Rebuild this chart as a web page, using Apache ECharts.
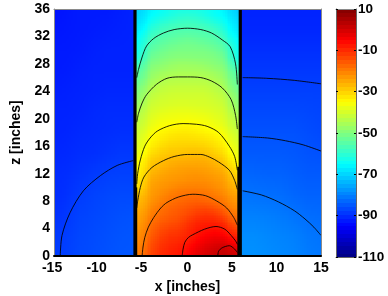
<!DOCTYPE html>
<html><head><meta charset="utf-8">
<style>html,body{margin:0;padding:0;background:#fff}#c{width:388px;height:296px}</style>
<script src="https://cdn.jsdelivr.net/npm/echarts@6/dist/echarts.min.js"></script></head>
<body><div id="c"></div>
<script>
// z rows for the centre region (one per inch)
const centreZ=[.5,1.5,2.5,3.5,4.5,5.5,6.5,7.5,8.5,9.5,10.5,11.5,12.5,13.5,14.5,15.5,16.5,17.5,18.5,19.5,20.5,21.5,22.5,23.5,24.5,25.5,26.5,27.5,28.5,29.5,30.5,31.5,32.5,33.5,34.5,35.5];
const centreX=[-5.5,-4.5,-3.5,-2.5,-1.5,-0.5,0.5,1.5,2.5,3.5,4.5,5.5];
const colA=[-21,-22,-23,-23,-25,-25,-26,-27,-28,-32,-34,-35,-36,-37,-38,-40,-40,-41,-42,-43,-45,-46,-49,-50,-52,-54,-56,-58,-62,-64,-65,-66,-68,-69,-70,-71];
const colB=[-15,-16,-17,-18,-19,-20,-22,-23,-24,-24,-25,-26,-28,-29,-31,-33,-35,-36,-38,-39,-40,-41,-42,-44,-45,-48,-49,-50,-52,-54,-56,-57,-60,-64,-65,-67];
const colC=[-11,-12,-13,-15,-16,-18,-19,-20,-22,-23,-23,-25,-26,-28,-29,-31,-33,-34,-35,-37,-38,-40,-40,-42,-43,-45,-46,-49,-50,-52,-54,-56,-57,-60,-63,-65];
const colD=[-9,-10,-11,-12,-14,-16,-17,-18,-20,-21,-23,-23,-25,-26,-28,-29,-31,-33,-34,-36,-37,-39,-40,-41,-42,-44,-45,-48,-49,-51,-52,-54,-56,-58,-61,-64];
const colE=[-8,-9,-10,-11,-14,-15,-16,-17,-18,-20,-22,-23,-24,-25,-27,-29,-30,-32,-33,-36,-37,-38,-40,-40,-42,-43,-45,-46,-48,-50,-51,-54,-55,-57,-60,-62];
const colF=[-7,-8,-10,-11,-12,-14,-15,-16,-18,-19,-21,-23,-23,-25,-27,-29,-30,-32,-33,-35,-37,-38,-40,-40,-42,-43,-45,-46,-48,-50,-51,-52,-55,-57,-58,-62];
const colG=[-3,-5,-7,-8,-9,-11,-14,-15,-17,-19,-21,-22,-23,-25,-26,-28,-30,-32,-33,-35,-37,-38,-40,-40,-42,-43,-45,-46,-48,-50,-51,-52,-55,-57,-58,-62];
const colH=[-1,-3,-5,-7,-8,-10,-12,-15,-17,-19,-21,-22,-23,-25,-26,-29,-30,-33,-34,-36,-37,-39,-40,-40,-42,-43,-45,-46,-49,-50,-51,-54,-55,-57,-60,-62];
const colI=[1,-1,-3,-5,-8,-10,-12,-16,-18,-20,-21,-23,-24,-25,-27,-29,-31,-33,-35,-36,-38,-39,-40,-41,-42,-44,-45,-48,-49,-50,-52,-54,-56,-58,-62,-64];
const colJ=[2,0,-3,-5,-8,-10,-14,-17,-19,-21,-23,-23,-25,-27,-29,-31,-33,-34,-36,-38,-39,-40,-41,-42,-44,-45,-46,-49,-50,-51,-54,-55,-57,-60,-64,-65];
const colK=[3,1,-3,-7,-10,-14,-18,-19,-21,-23,-23,-25,-26,-29,-31,-33,-35,-36,-38,-39,-40,-41,-42,-44,-45,-48,-49,-50,-52,-54,-56,-58,-62,-64,-65,-67];
const colL=[0,-5,-9,-12,-17,-19,-21,-23,-24,-26,-29,-31,-33,-36,-38,-39,-40,-42,-43,-45,-46,-49,-50,-51,-54,-55,-56,-60,-64,-65,-65,-67,-68,-70,-70,-72];
const centreCols=[colA,colB,colC,colD,colE,colF,colG,colH,colI,colJ,colK,colL];

// side regions (coarser): rows every 3 inches
const sideZ=[1.5,4.5,7.5,10.5,13.5,16.5,19.5,22.5,25.5,28.5,31.5,34.5];
const leftX=[-14.25,-12.75,-11.25,-9.75,-8.25,-6.75];
const rightX=[6.75,8.25,9.75,11.25,12.75,14.25];
const leftRows=[
[-88,-87,-86,-86,-85,-85],[-89,-87,-87,-86,-86,-85],[-90,-88,-87,-87,-86,-86],[-90,-89,-88,-87,-87,-87],
[-90,-90,-89,-89,-88,-88],[-91,-90,-90,-90,-89,-89],[-91,-91,-90,-90,-90,-90],[-91,-91,-91,-90,-90,-90],
[-92,-91,-91,-91,-91,-91],[-92,-92,-91,-91,-91,-91],[-92,-92,-92,-91,-91,-91],[-93,-92,-92,-92,-92,-91]];
const rightRows=[
[-78,-78,-79,-79,-80,-81],[-79,-79,-80,-80,-81,-82],[-81,-81,-81,-82,-83,-83],[-82,-83,-83,-83,-84,-84],
[-84,-84,-84,-84,-85,-85],[-85,-85,-85,-85,-85,-86],[-86,-86,-86,-86,-86,-87],[-87,-87,-87,-87,-87,-87],
[-88,-88,-88,-88,-88,-88],[-89,-89,-89,-89,-89,-89],[-90,-90,-90,-90,-90,-90],[-91,-91,-91,-91,-91,-91]];

// contour lines: [x, z]
const contour1=[[-5.7,26],[-5.5,27.2],[-5.1,29],[-4.6,30.6],[-3.8,31.7],[-2.7,32.5],[-1.5,33],[0,33.2],[1.5,33],[2.7,32.5],[3.9,31.5],[4.8,30.5],[5.4,28],[5.6,25]];
const contour2=[[-5.7,19.5],[-5.5,20.8],[-5.1,22.3],[-4.6,23.5],[-3.5,25],[-2.3,25.9],[-1,26.1],[0,26.1],[1.5,26],[2.7,25.5],[3.9,24.5],[4.9,22.8],[5.4,20.5],[5.6,18.5]];
const contour3=[[-5.7,10.5],[-5.6,12],[-5.3,14],[-4.8,16],[-4.2,17.2],[-3.4,18.2],[-2,19],[-0.5,19.3],[1,19.2],[2.2,18.9],[3.5,18],[4.7,16],[5.3,14.5],[5.6,12.5]];
const contour4=[[-5.7,7],[-5.6,8],[-5.3,10],[-4.9,11.5],[-4,12.9],[-2.7,13.9],[-1.5,14.5],[0,14.8],[1.5,14.8],[2.5,14.4],[3.5,13.7],[4.7,12.5],[5.3,11],[5.6,9.7]];
const contour5=[[-5.1,0],[-5,1.3],[-4.8,2.7],[-4.4,4.2],[-3.8,5.6],[-3,7],[-2.3,7.8],[-1,8.6],[0.6,9],[2,8.8],[3.3,8],[4.4,7],[5.2,5.6],[5.6,4.5]];
const contour6=[[-0.6,0],[-0.5,1],[-0.3,2],[0.1,2.7],[0.6,3.1],[1.9,3.9],[3.2,4.3],[4.2,3.9],[4.9,3],[5.4,2.2],[5.6,1.7]];
const contour7=[[3.4,0],[3.5,0.7],[3.9,1.2],[4.7,1.5],[5.3,1],[5.6,0.5]];
const contourLeft=[[-14.3,0],[-14.1,3],[-13.2,6.3],[-11.7,9.5],[-9.8,11.7],[-7.9,13.2],[-6.1,13.9]];
const contourR1=[[6.2,26],[8.9,25.9],[12,25.6],[15,25.1]];
const contourR2=[[6.2,17.4],[9,17.2],[11,16.8],[13,16.2],[15,15.3]];
const contourR3=[[6.2,9.5],[8.3,8.9],[10.2,7.9],[12,6.6],[13.2,5.4],[14.2,4.2],[15,3]];
const wallLeft=[[-5.9,0],[-5.9,36]];
const wallRight=[[5.93,0],[5.93,36]];
const wallLeftLow=[[-5.75,0],[-5.75,10]];
const wallRightLow=[[5.7,0],[5.7,13]];

const font='"Liberation Sans", Arial, sans-serif';
function clamp(a){return Math.max(0,Math.min(1,a));}
function jet(v){
  const t=(v+110)/120;
  const r=clamp(Math.min(4*t-1.5,-4*t+4.5)),g=clamp(Math.min(4*t-0.5,-4*t+3.5)),b=clamp(Math.min(4*t+0.5,-4*t+2.5));
  return 'rgb('+Math.round(r*255)+','+Math.round(g*255)+','+Math.round(b*255)+')';
}
// cells: [x, z, value, width, height, corner shades for interpolated shading]
function addRegion(out,get,nx,nz,xs,zs,w,h){
  const corner=(i,j)=>{let s=0,n=0;for(let a=i-1;a<=i;a++)for(let b=j-1;b<=j;b++){if(a>=0&&a<nx&&b>=0&&b<nz){s+=get(a,b);n++;}}return s/n;};
  for(let i=0;i<nx;i++)for(let j=0;j<nz;j++){
    out.push([xs[i],zs[j],get(i,j),w,h,corner(i,j),corner(i+1,j),corner(i,j+1),corner(i+1,j+1)]);
  }
}
const cells=[];
addRegion(cells,(i,j)=>centreCols[i][j],12,36,centreX,centreZ,1,1);
addRegion(cells,(i,j)=>leftRows[j][i],6,12,leftX,sideZ,1.5,3);
addRegion(cells,(i,j)=>rightRows[j][i],6,12,rightX,sideZ,1.5,3);
const barCells=[];
for(let k=0;k<64;k++){const v=-110+(k+0.5)*120/64;barCells.push([0,v,v,1,120/64,v,v,v,v]);}

function renderCell(params,api){
  const x=api.value(0),z=api.value(1),w=api.value(3),h=api.value(4);
  const a=api.coord([x-w/2,z+h/2]),b=api.coord([x+w/2,z-h/2]);
  const x0=Math.floor(a[0]),y0=Math.floor(a[1]),x1=Math.ceil(b[0]),y1=Math.ceil(b[1]);
  const bl=api.value(5),br=api.value(6),tl=api.value(7),tr=api.value(8);
  if(bl===br&&tl===tr&&tl===bl){
    return {type:'rect',shape:{x:x0,y:y0,width:x1-x0,height:y1-y0},style:{fill:jet(bl)}};
  }
  const nx=Math.ceil((x1-x0)/2),ny=Math.ceil((y1-y0)/2),children=[];
  for(let i=0;i<nx;i++)for(let j=0;j<ny;j++){
    const u=(i+.5)/nx,t=(j+.5)/ny;
    const s=(tl*(1-u)+tr*u)*(1-t)+(bl*(1-u)+br*u)*t;
    const px=x0+Math.round(i*(x1-x0)/nx),py=y0+Math.round(j*(y1-y0)/ny);
    const qx=x0+Math.round((i+1)*(x1-x0)/nx),qy=y0+Math.round((j+1)*(y1-y0)/ny);
    children.push({type:'rect',shape:{x:px,y:py,width:qx-px,height:qy-py},style:{fill:jet(s)}});
  }
  return {type:'group',children};
}
function line(d,w,c,smooth){return {type:'line',xAxisIndex:0,yAxisIndex:0,data:d,showSymbol:false,symbol:'none',silent:true,z:4,smooth:smooth?0.3:false,animation:false,clip:true,
  lineStyle:{color:c,width:w}};}
const labelStyle={fontFamily:font,fontWeight:'bold',fontSize:14,color:'#000'};
const chart=echarts.init(document.getElementById('c'),null,{renderer:'canvas'});
const cw='rgba(0,0,0,0.85)';
chart.setOption({
  animation:false,
  backgroundColor:'#fff',
  grid:[{left:54,top:9,width:267,height:247,outerBoundsMode:'none'},{left:336,top:9,width:20,height:248,outerBoundsMode:'none'}],
  xAxis:[
    {gridIndex:0,type:'value',min:-15,max:15,interval:5,position:'bottom',z:6,
     axisLine:{show:true,onZero:false,lineStyle:{color:'#000',width:2}},axisTick:{show:false},splitLine:{show:false},
     axisLabel:{...labelStyle,margin:5,formatter:v=>v<0?v+' ':String(v)},
     name:'x [inches]',nameLocation:'middle',nameGap:22,nameTextStyle:labelStyle},
    {gridIndex:0,type:'value',min:-15,max:15,position:'top',z:6,axisLine:{show:true,onZero:false,lineStyle:{color:'#8a8a8a',width:1}},axisTick:{show:false},axisLabel:{show:false},splitLine:{show:false}},
    {gridIndex:1,type:'value',min:-0.5,max:0.5,position:'bottom',z:6,axisLine:{show:true,onZero:false,lineStyle:{color:'#666',width:1}},axisTick:{show:false},axisLabel:{show:false},splitLine:{show:false}},
    {gridIndex:1,type:'value',min:-0.5,max:0.5,position:'top',z:6,axisLine:{show:true,onZero:false,lineStyle:{color:'#8a8a8a',width:1}},axisTick:{show:false},axisLabel:{show:false},splitLine:{show:false}}
  ],
  yAxis:[
    {gridIndex:0,type:'value',min:0,max:36,interval:4,position:'left',z:6,axisLine:{show:true,onZero:false,lineStyle:{color:'#8a8a8a',width:1}},axisTick:{show:false},splitLine:{show:false},
     axisLabel:{...labelStyle,margin:4,padding:[2,0,0,0]},name:'z [inches]',nameLocation:'middle',nameGap:24,nameRotate:90,nameTextStyle:labelStyle},
    {gridIndex:0,type:'value',min:0,max:36,position:'right',z:6,axisLine:{show:true,onZero:false,lineStyle:{color:'#8a8a8a',width:1}},axisTick:{show:false},axisLabel:{show:false},splitLine:{show:false}},
    {gridIndex:1,type:'value',min:-110,max:10,interval:20,position:'right',z:6,axisLine:{show:true,onZero:false,lineStyle:{color:'#666',width:1}},axisTick:{show:true,inside:true,length:2,lineStyle:{color:'#000'}},splitLine:{show:false},
     axisLabel:{...labelStyle,fontSize:13.5,margin:2,padding:[2,0,0,0],showMinLabel:true,showMaxLabel:true,formatter:v=>String(v)}},
    {gridIndex:1,type:'value',min:-110,max:10,interval:20,position:'left',z:6,axisLine:{show:true,onZero:false,lineStyle:{color:'#666',width:1}},axisTick:{show:true,inside:true,length:2,lineStyle:{color:'#000'}},axisLabel:{show:false},splitLine:{show:false}}
  ],
  series:[
    {type:'custom',xAxisIndex:0,yAxisIndex:0,coordinateSystem:'cartesian2d',data:cells,renderItem:renderCell,silent:true,z:1,clip:true,animation:false,progressive:0},
    {type:'custom',xAxisIndex:2,yAxisIndex:2,coordinateSystem:'cartesian2d',data:barCells,renderItem:renderCell,silent:true,z:1,clip:true,animation:false},
    line(wallLeft,3.2,'#000'),line(wallRight,3.2,'#000'),line(wallLeftLow,1.8,'#000'),line(wallRightLow,1.8,'#000'),
    line(contour1,1,cw,1),line(contour2,1,cw,1),line(contour3,1,cw,1),line(contour4,1,cw,1),line(contour5,1,cw,1),line(contour6,1,cw,1),line(contour7,1,cw,1),
    line(contourLeft,1,cw,1),line(contourR1,1,cw,1),line(contourR2,1,cw,1),line(contourR3,1,cw,1)
  ]
});
</script></body></html>
